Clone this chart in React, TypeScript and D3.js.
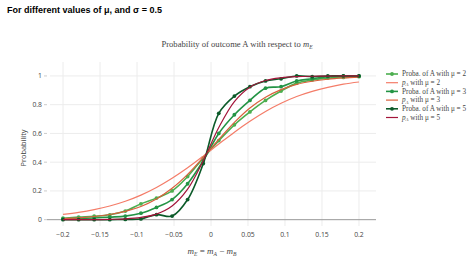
import React from 'react';
import * as d3 from 'd3';

// m_E sample points (20 evenly spaced from -0.2 to 0.2)
const mE = [
  -0.2, -0.1789, -0.1579, -0.1368, -0.1158, -0.0947, -0.0737, -0.0526, -0.0316, -0.0105,
  0.0105, 0.0316, 0.0526, 0.0737, 0.0947, 0.1158, 0.1368, 0.1579, 0.1789, 0.2,
];

const probaMu2 = [0.01, 0.018, 0.024, 0.034, 0.06, 0.11, 0.15, 0.2, 0.3, 0.43, 0.55, 0.66, 0.75, 0.83, 0.895, 0.95, 0.972, 0.985, 0.99, 0.995];
const pAMu2 = [0.037, 0.051, 0.07, 0.095, 0.128, 0.171, 0.224, 0.288, 0.361, 0.442, 0.526, 0.609, 0.685, 0.753, 0.81, 0.857, 0.893, 0.921, 0.943, 0.958];
const probaMu3 = [0.005, 0.008, 0.012, 0.018, 0.025, 0.045, 0.085, 0.14, 0.25, 0.41, 0.6, 0.73, 0.83, 0.915, 0.925, 0.965, 0.98, 0.995, 1.0, 1.0];
const pAMu3 = [0.008, 0.013, 0.022, 0.036, 0.058, 0.092, 0.144, 0.218, 0.315, 0.433, 0.559, 0.677, 0.777, 0.852, 0.905, 0.941, 0.963, 0.977, 0.986, 0.992];
const probaMu5 = [0.0, 0.0, 0.0, 0.0, 0.002, 0.005, 0.035, 0.025, 0.14, 0.39, 0.74, 0.86, 0.925, 0.965, 0.98, 1.0, 0.995, 1.0, 1.0, 1.0];
const pAMu5 = [0.0001, 0.0004, 0.0009, 0.0024, 0.006, 0.016, 0.039, 0.095, 0.212, 0.41, 0.641, 0.822, 0.922, 0.968, 0.987, 0.995, 0.998, 0.999, 1.0, 1.0];

const xTicks = [-0.2, -0.15, -0.1, -0.05, 0, 0.05, 0.1, 0.15, 0.2];
const yTicks = [0, 0.2, 0.4, 0.6, 0.8, 1];

const series = [
  { name: 'proba', mu: 2, values: probaMu2, color: '#4cae4f', markers: true },
  { name: 'pA', mu: 2, values: pAMu2, color: '#f47c68', markers: false },
  { name: 'proba', mu: 3, values: probaMu3, color: '#239445', markers: true },
  { name: 'pA', mu: 3, values: pAMu3, color: '#d95f3b', markers: false },
  { name: 'proba', mu: 5, values: probaMu5, color: '#0b5a29', markers: true },
  { name: 'pA', mu: 5, values: pAMu5, color: '#a3153a', markers: false },
];

const fmt = (v: number) => (v === 0 ? '0' : String(v).replace('-', '\u2212'));

export default function App() {
  const W = 474, H = 259;
  const left = 50, right = 376, top = 62, bottom = 226;
  const x = d3.scaleLinear().domain([-0.2176, 0.223]).range([left, right]);
  const y = d3.scaleLinear().domain([-0.044, 1.097]).range([bottom, top]);
  const line = d3
    .line<number>()
    .x((_, i) => x(mE[i]))
    .y((d) => y(d))
    .curve(d3.curveCatmullRom.alpha(0.5));

  const tickFont = { fontFamily: '"Open Sans", sans-serif', fontSize: 6.8, fill: '#444' };

  return (
    <svg width={W} height={H} style={{ position: 'absolute', left: 0, top: 0, background: '#fff' }}>
      <text x={7} y={13} style={{ fontFamily: 'Liberation Sans, Arial, sans-serif', fontSize: 9, fontWeight: 'bold' }}>
        For different values of μ, and σ = 0.5
      </text>
      <text x={237} y={47} textAnchor="middle" style={{ fontFamily: '"Liberation Serif", "Times New Roman", serif', fontSize: 8.6, fill: '#444' }}>
        Probability of outcome A with respect to <tspan fontStyle="italic">m</tspan>
        <tspan fontStyle="italic" fontSize={5.5} dy={1.5}>E</tspan>
      </text>

      {/* grid */}
      {xTicks.map((t) => (
        <line key={'gx' + t} x1={x(t)} x2={x(t)} y1={top} y2={bottom} stroke="#ececec" strokeWidth={1} />
      ))}
      {yTicks.filter((t) => t !== 0).map((t) => (
        <line key={'gy' + t} x1={left} x2={right} y1={y(t)} y2={y(t)} stroke="#ececec" strokeWidth={1} />
      ))}
      <line x1={left - 3} x2={right} y1={y(0)} y2={y(0)} stroke="#999" strokeWidth={1} />

      {/* y ticks */}
      {yTicks.map((t) => (
        <g key={'ty' + t}>
          <line x1={left - 6} x2={left - 3} y1={y(t)} y2={y(t)} stroke="#ccc" />
          <text x={left - 8} y={y(t)} dy="0.35em" textAnchor="end" style={tickFont}>{fmt(t)}</text>
        </g>
      ))}
      {/* x ticks */}
      {xTicks.map((t) => (
        <text key={'tx' + t} x={x(t)} y={bottom + 11} textAnchor="middle" style={tickFont}>{fmt(t)}</text>
      ))}

      <text transform={`translate(26,${(top + bottom) / 2 + 4}) rotate(-90)`} textAnchor="middle" style={{ ...tickFont, fontSize: 7.4 }}>
        Probability
      </text>
      <text x={212} y={254} textAnchor="middle" style={{ fontFamily: '"Liberation Serif", serif', fontSize: 9, fill: '#444', fontStyle: 'italic' }}>
        m<tspan fontSize={5.6} dy={1.5}>E</tspan><tspan dy={-1.5} fontStyle="normal"> = </tspan>m<tspan fontSize={5.6} dy={1.5}>A</tspan>
        <tspan dy={-1.5} fontStyle="normal"> − </tspan>m<tspan fontSize={5.6} dy={1.5}>B</tspan>
      </text>

      {/* series */}
      {series.map((s, k) => (
        <g key={'s' + k}>
          <path d={line(s.values) || ''} fill="none" stroke={s.color} strokeWidth={s.markers ? 1.6 : 1.2} />
          {s.markers && s.values.map((v, i) => (
            <circle key={i} cx={x(mE[i])} cy={y(v)} r={1.9} fill={s.color} />
          ))}
        </g>
      ))}

      {/* legend */}
      {series.map((s, k) => {
        const ly = 74 + k * 8.7;
        return (
          <g key={'l' + k}>
            <line x1={386} x2={398} y1={ly} y2={ly} stroke={s.color} strokeWidth={s.markers ? 1.6 : 1.2} />
            {s.markers && <circle cx={392} cy={ly} r={1.9} fill={s.color} />}
            <text x={402} y={ly} dy="0.33em" style={{ fontFamily: '"Liberation Serif", serif', fontSize: 7.2, fill: '#444' }}>
              {s.name === 'proba' ? (
                <>Proba. of A with μ = {s.mu}</>
              ) : (
                <>
                  <tspan fontStyle="italic">p</tspan>
                  <tspan fontStyle="italic" fontSize={4.8} dy={1.3}>A</tspan>
                  <tspan dy={-1.3}> with μ = {s.mu}</tspan>
                </>
              )}
            </text>
          </g>
        );
      })}
    </svg>
  );
}
